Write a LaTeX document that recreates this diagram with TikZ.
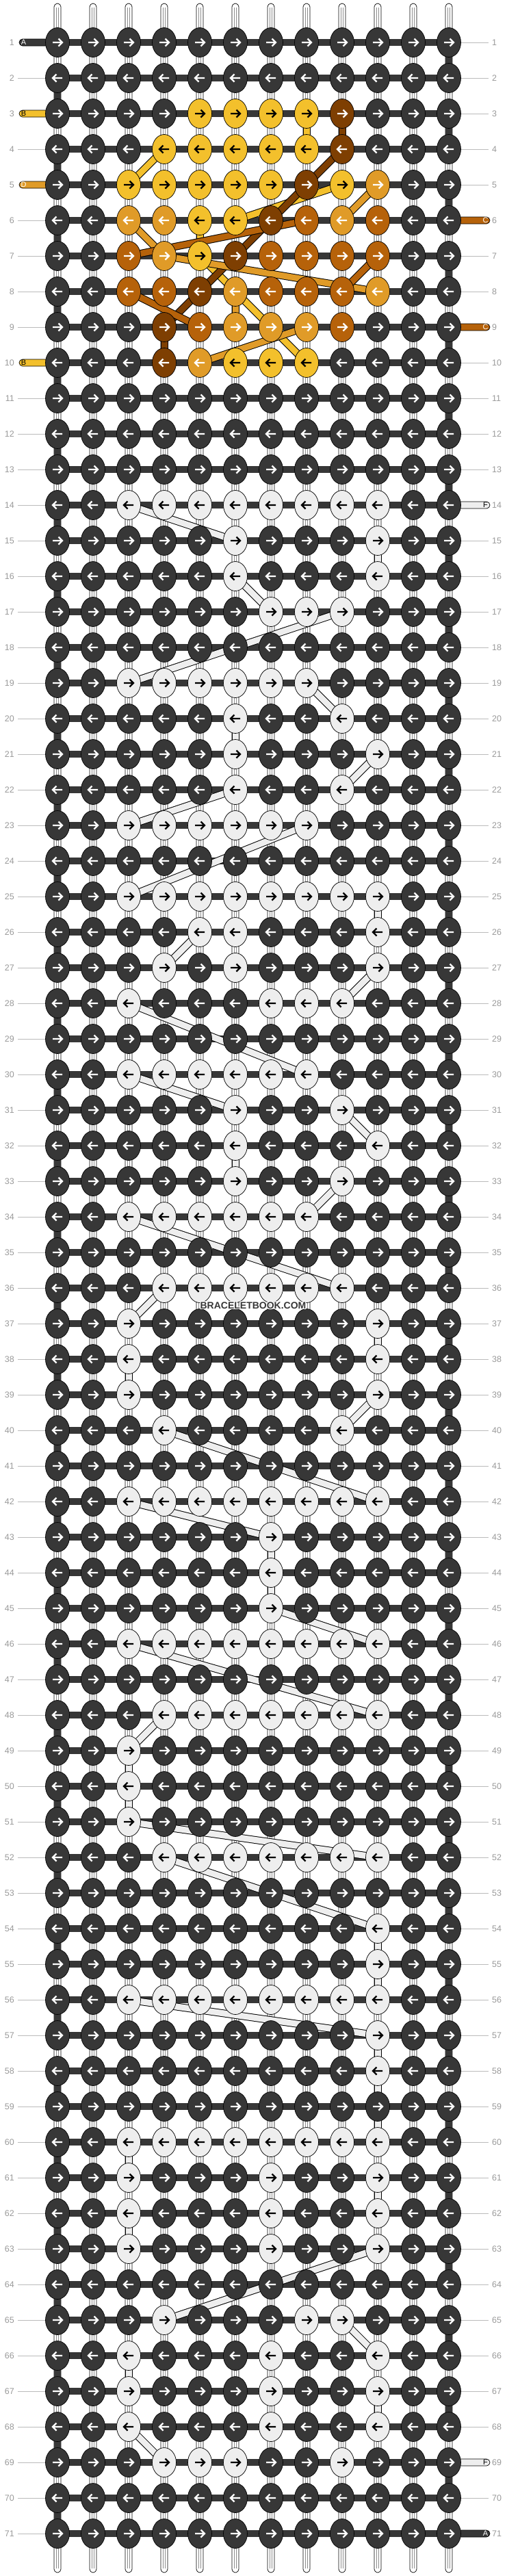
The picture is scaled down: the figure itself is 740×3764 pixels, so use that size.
\documentclass[tikz,border=0pt]{standalone}
\usepackage{fontspec}
\setmainfont{Liberation Sans}
\usetikzlibrary{shapes.geometric}
\definecolor{cK}{HTML}{373737}
\definecolor{cY}{HTML}{F3C02C}
\definecolor{cD}{HTML}{E09B28}
\definecolor{cC}{HTML}{B6620A}
\definecolor{cN}{HTML}{7E3F02}
\definecolor{cW}{HTML}{EEEEEE}
\colorlet{aK}{white}
\colorlet{aY}{black}
\colorlet{aD}{white}
\colorlet{aC}{white}
\colorlet{aN}{white}
\colorlet{aW}{black}
\definecolor{numgray}{HTML}{9A9A9A}
\definecolor{guidegray}{HTML}{BBBBBB}
\newcommand\setknots[3]{\foreach \cc in {#2}{\expandafter\xdef\csname kc-#1-\cc\endcsname{#3}}}
% rows 3-10 coloured motif
\setknots{3}{5,6,7,8}{Y}\setknots{3}{9}{N}
\setknots{4}{4,...,8}{Y}\setknots{4}{9}{N}
\setknots{5}{3,...,7,9}{Y}\setknots{5}{8}{N}\setknots{5}{10}{D}
\setknots{6}{3,4,9}{D}\setknots{6}{5,6}{Y}\setknots{6}{7}{N}\setknots{6}{8,10}{C}
\setknots{7}{3,7,8,9,10}{C}\setknots{7}{4}{D}\setknots{7}{5}{Y}\setknots{7}{6}{N}
\setknots{8}{3,4,7,8,9}{C}\setknots{8}{5}{N}\setknots{8}{6,10}{D}
\setknots{9}{4}{N}\setknots{9}{5,9}{C}\setknots{9}{6,7,8}{D}
\setknots{10}{4}{N}\setknots{10}{5}{D}\setknots{10}{6,7,8}{Y}
% white pattern
\setknots{14}{3,...,10}{W}
\setknots{15}{6,10}{W}\setknots{16}{6,10}{W}\setknots{17}{7,8,9}{W}
\setknots{19}{3,...,8}{W}\setknots{20}{6,9}{W}\setknots{21}{6,10}{W}\setknots{22}{6,9}{W}
\setknots{23}{3,...,8}{W}
\setknots{25}{3,...,10}{W}\setknots{26}{5,6,10}{W}\setknots{27}{4,6,10}{W}\setknots{28}{3,7,8,9}{W}
\setknots{30}{3,...,8}{W}\setknots{31}{6,9}{W}\setknots{32}{6,10}{W}\setknots{33}{6,9}{W}
\setknots{34}{3,...,8}{W}
\setknots{36}{4,...,9}{W}\setknots{37}{3,10}{W}\setknots{38}{3,10}{W}\setknots{39}{3,10}{W}\setknots{40}{4,9}{W}
\setknots{42}{3,...,10}{W}\setknots{43}{7}{W}\setknots{44}{7}{W}\setknots{45}{7}{W}\setknots{46}{3,...,10}{W}
\setknots{48}{4,...,10}{W}\setknots{49}{3}{W}\setknots{50}{3}{W}\setknots{51}{3}{W}\setknots{52}{4,...,10}{W}
\setknots{54}{10}{W}\setknots{55}{10}{W}\setknots{56}{3,...,10}{W}\setknots{57}{10}{W}\setknots{58}{10}{W}
\setknots{60}{3,...,10}{W}\setknots{61}{3,7,10}{W}\setknots{62}{3,7,10}{W}\setknots{63}{3,7,10}{W}
\setknots{65}{4,8,9}{W}\setknots{66}{3,7,10}{W}\setknots{67}{3,7,10}{W}\setknots{68}{3,7,10}{W}
\setknots{69}{4,5,6,9}{W}
\begin{document}
\begin{tikzpicture}[x=1pt,y=1pt,
  knot/.style={ellipse,minimum width=35pt,minimum height=43pt,inner sep=0pt,draw=black,line width=0.7pt},
  arrowline/.style={line width=2.2pt,line join=miter,line cap=butt},
  hbar/.style={line width=10.5pt,draw=cK,line cap=butt},
  turnbar/.style={line width=10.5pt,draw=cK,line cap=butt},
  conn/.style={line width=9pt,draw=#1,line cap=butt,preaction={draw=black,line width=11pt,line cap=butt}},
  strand/.style={fill=white,draw=black,line width=0.7pt,rounded corners=5pt},
  strandline/.style={draw=black!45,line width=0.5pt},
  tailline/.style={draw=black,line width=0.7pt},
  taillab/.style={font=\fontsize{11}{11}\selectfont,inner sep=0pt},
  numlab/.style={font=\fontsize{12.5}{12.5}\selectfont,text=numgray,inner sep=0pt},
  guide/.style={draw=guidegray,line width=0.8pt},
  wmark/.style={font=\bfseries\fontsize{14}{14}\selectfont,inner sep=0pt}]
\useasboundingbox (0,0) rectangle (740,-3764);
\fill[white] (0,0) rectangle (740,-3764);
% coordinates
\foreach \r in {1,...,71}{
  \foreach \c in {1,...,12}{
    \coordinate (k-\r-\c) at ({84+(\c-1)*52},{-(62+(\r-1)*52)});
  }
  \coordinate (lt-\r) at (28,{-(62+(\r-1)*52)});
  \coordinate (rt-\r) at (716,{-(62+(\r-1)*52)});
}
\foreach \c in {1,...,12}{
  \coordinate (t-\c) at ({84+(\c-1)*52},-5);
  \coordinate (b-\c) at ({84+(\c-1)*52},-3759);
}
% vertical strings
\foreach \c in {1,...,12}{
  \draw[strand] ([xshift=-5pt]t-\c) rectangle ([xshift=5pt]b-\c);
  \draw[strandline] ([xshift=-1.7pt,yshift=-6pt]t-\c) -- ([xshift=-1.7pt,yshift=6pt]b-\c);
  \draw[strandline] ([xshift=1.7pt,yshift=-6pt]t-\c) -- ([xshift=1.7pt,yshift=6pt]b-\c);
}
% row guides and numbers
\foreach \r in {2,4,6,7,8,9,11,12,...,71}{
  \draw[guide] ([xshift=-2pt]lt-\r) -- ([xshift=-17pt]k-\r-1);
}
\foreach \r in {1,2,...,5,7,8,10,11,...,13,15,16,...,68,70}{
  \draw[guide] ([xshift=17pt]k-\r-12) -- ([xshift=-2pt]rt-\r);
}
\foreach \r in {1,...,71}{
  \node[numlab,anchor=east] (nl-\r) at ([xshift=-7pt]lt-\r) {\r};
  \node[numlab,anchor=west] (nr-\r) at ([xshift=3pt]rt-\r) {\r};
}
% thread tails
\foreach \r/\col/\tc/\lab in {1/cK/white/A,3/cY/black/B,5/cD/white/D,10/cY/black/B}{
  \filldraw[tailline,fill=\col] ([yshift=5pt]k-\r-1) -- ([xshift=5pt,yshift=5pt]lt-\r) arc[start angle=90,end angle=270,radius=5pt] -- ([yshift=-5pt]k-\r-1) -- cycle;
  \node[taillab,text=\tc] (tl-\r) at ([xshift=6.5pt]lt-\r) {\lab};
}
\foreach \r/\col/\tc/\lab in {6/cC/white/C,9/cC/white/C,14/cW/black/F,69/cW/black/F,71/cK/white/A}{
  \filldraw[tailline,fill=\col] ([yshift=5pt]k-\r-12) -- ([xshift=-5pt,yshift=5pt]rt-\r) arc[start angle=90,end angle=-90,radius=5pt] -- ([yshift=-5pt]k-\r-12) -- cycle;
  \node[taillab,text=\tc] (tr-\r) at ([xshift=-6.5pt]rt-\r) {\lab};
}
% horizontal working thread
\foreach \r in {1,...,71}{
  \draw[hbar] (k-\r-1) -- (k-\r-12);
}
% turnarounds at the edges
\foreach \r in {1,3,...,69}{
  \pgfmathtruncatemacro\rn{\r+1}
  \draw[turnbar] (k-\r-12) -- (k-\rn-12);
}
\foreach \r in {2,4,...,70}{
  \pgfmathtruncatemacro\rn{\r+1}
  \draw[turnbar] (k-\r-1) -- (k-\rn-1);
}
% coloured thread paths
\foreach \ra/\ca/\rb/\cb in {3/8/4/8,4/4/5/3,5/9/6/6,6/5/7/5,7/5/10/8}{
  \draw[conn=cY] (k-\ra-\ca) -- (k-\rb-\cb);
}
\foreach \ra/\ca/\rb/\cb in {3/9/4/9,4/9/5/8,5/8/6/7,6/7/7/6,7/6/8/5,8/5/9/4,9/4/10/4}{
  \draw[conn=cN] (k-\ra-\ca) -- (k-\rb-\cb);
}
\foreach \ra/\ca/\rb/\cb in {5/10/6/9,6/3/7/4,7/4/8/10,8/6/9/6,9/8/10/5}{
  \draw[conn=cD] (k-\ra-\ca) -- (k-\rb-\cb);
}
\foreach \ra/\ca/\rb/\cb in {6/8/7/3,7/10/8/9,8/3/9/5}{
  \draw[conn=cC] (k-\ra-\ca) -- (k-\rb-\cb);
}
\foreach \ra/\ca/\rb/\cb in {14/3/15/6,15/10/16/10,16/6/17/7,17/9/19/3,19/8/20/9,20/6/21/6,
  21/10/22/9,22/6/23/3,23/8/25/3,25/10/26/10,26/5/27/4,27/10/28/9,28/3/30/8,30/3/31/6,
  31/9/32/10,32/6/33/6,33/9/34/8,34/3/36/9,36/4/37/3,37/10/38/10,38/3/39/3,39/10/40/9,
  40/4/42/10,42/3/43/7,43/7/44/7,44/7/45/7,45/7/46/10,46/3/48/10,48/4/49/3,49/3/50/3,
  50/3/51/3,51/3/52/10,52/4/54/10,54/10/55/10,55/10/56/10,56/3/57/10,57/10/58/10,
  58/10/60/10,60/3/61/3,61/10/62/10,62/3/63/3,63/10/65/4,65/9/66/10,66/3/67/3,
  67/10/68/10,68/3/69/4}{
  \draw[conn=cW] (k-\ra-\ca) -- (k-\rb-\cb);
}
% knots
\foreach \r in {1,...,71}{
  \pgfmathtruncatemacro\odd{mod(\r,2)}
  \foreach \c in {1,...,12}{
    \ifcsname kc-\r-\c\endcsname\edef\kcol{\csname kc-\r-\c\endcsname}\else\def\kcol{K}\fi
    \node[knot,fill=c\kcol] (n-\r-\c) at (k-\r-\c) {};
    \ifnum\odd=1
      \draw[arrowline,draw=a\kcol] (k-\r-\c) ++(-7,0) -- ++(14,0) ++(-5.5,5.5) -- ++(5.5,-5.5) -- ++(-5.5,-5.5);
    \else
      \draw[arrowline,draw=a\kcol] (k-\r-\c) ++(7,0) -- ++(-14,0) ++(5.5,5.5) -- ++(-5.5,-5.5) -- ++(5.5,-5.5);
    \fi
  }
}
% watermark
\coordinate (wmc) at (370,-1908);
\foreach \dx/\dy [count=\i] in {1/0,-1/0,0/1,0/-1,1/1,-1/1,1/-1,-1/-1}{
  \node[wmark,text=white] (wh-\i) at ([shift={(\dx,\dy)}]wmc) {BRACELETBOOK.COM};
}
\node[wmark,text=cK] (wm) at (wmc) {BRACELETBOOK.COM};
\end{tikzpicture}
\end{document}
